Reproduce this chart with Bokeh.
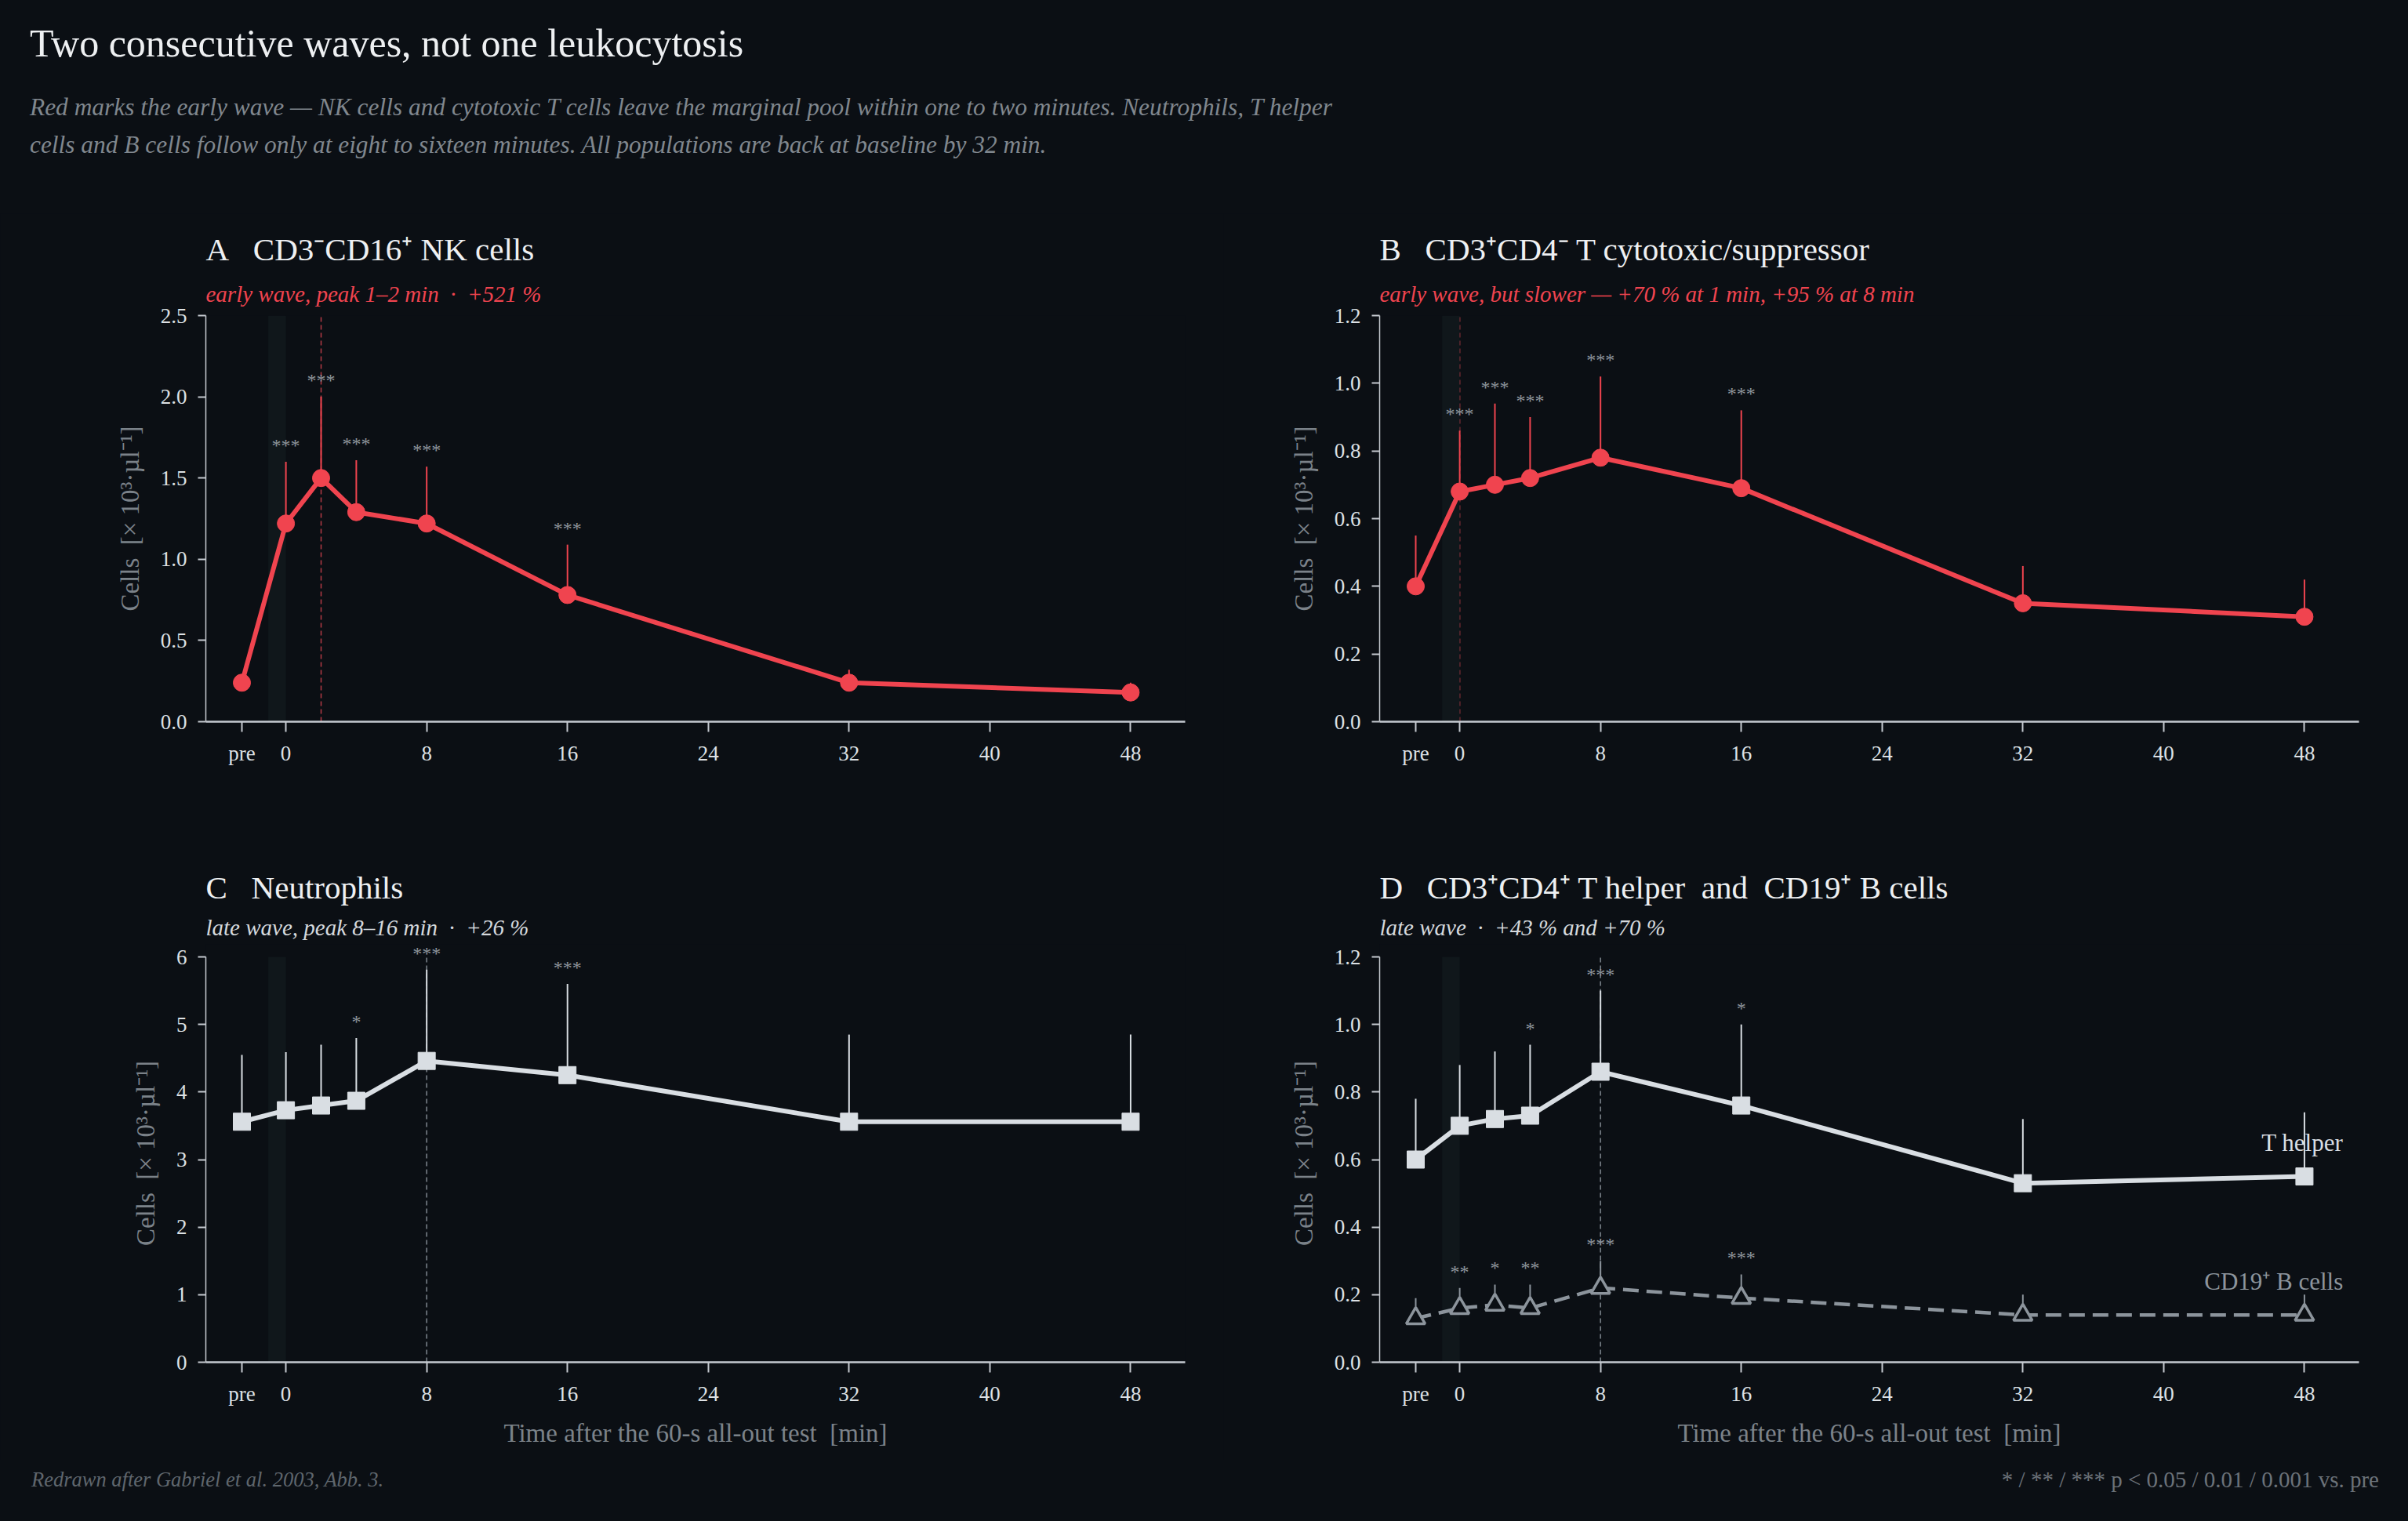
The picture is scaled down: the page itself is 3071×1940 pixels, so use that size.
from bokeh.plotting import figure
from bokeh.models import Range1d, FixedTicker, Title, BoxAnnotation, Div
from bokeh.layouts import column, row
from bokeh.core.properties import value
from bokeh.embed import file_html
from bokeh.resources import INLINE

# ---------------- data ----------------
times = [-2.5, 0, 2, 4, 8, 16, 32, 48]          # first entry = "pre"
x_ticks = [-2.5, 0, 8, 16, 24, 32, 40, 48]
x_tick_labels = ["pre", "0", "8", "16", "24", "32", "40", "48"]

nk_mean = [0.24, 1.22, 1.50, 1.29, 1.22, 0.78, 0.24, 0.18]
nk_sd = [0.04, 0.38, 0.50, 0.32, 0.35, 0.31, 0.08, 0.06]
nk_stars = ["", "***", "***", "***", "***", "***", "", ""]

cd8_mean = [0.40, 0.68, 0.70, 0.72, 0.78, 0.69, 0.35, 0.31]
cd8_sd = [0.15, 0.18, 0.24, 0.18, 0.24, 0.23, 0.11, 0.11]
cd8_stars = ["", "***", "***", "***", "***", "***", "", ""]

neu_mean = [3.56, 3.73, 3.80, 3.87, 4.46, 4.25, 3.56, 3.56]
neu_sd = [0.99, 0.86, 0.90, 0.93, 1.35, 1.35, 1.29, 1.29]
neu_stars = ["", "", "", "*", "***", "***", "", ""]

th_mean = [0.60, 0.70, 0.72, 0.73, 0.86, 0.76, 0.53, 0.55]
th_sd = [0.18, 0.18, 0.20, 0.21, 0.24, 0.24, 0.19, 0.19]
th_stars = ["", "", "", "*", "***", "*", "", ""]

b_mean = [0.13, 0.16, 0.17, 0.16, 0.22, 0.19, 0.14, 0.14]
b_sd = [0.06, 0.06, 0.06, 0.07, 0.08, 0.07, 0.06, 0.06]
b_stars = ["", "**", "*", "**", "***", "***", "", ""]

yticks_A = [0, 0.5, 1.0, 1.5, 2.0, 2.5]
yticks_B = [0, 0.2, 0.4, 0.6, 0.8, 1.0, 1.2]
yticks_C = [0, 1, 2, 3, 4, 5, 6]
yticks_D = [0, 0.2, 0.4, 0.6, 0.8, 1.0, 1.2]

# ---------------- style ----------------
FONT = "Liberation Serif"
BG = "#0b0f14"
BAND = "#10171b"
RED = "#f0444f"
LIGHT = "#d9dee3"
GREY_B = "#8c949c"
STAR = "#8e959c"
TICKLAB = "#dde1e5"
AXIS = "#c5cad0"
YLAB = "#7b8289"
WHITE = "#eef0f2"

YLABEL = "Cells\u00a0\u00a0[\u00d7 10\u00b3\u00b7\u00b5l\u207b\u00b9]"
XLABEL = "Time after the 60-s all-out test\u00a0\u00a0[min]"


def make_panel(width, height, left, right, top, bottom, ymax, yticks, yfmt,
               title, subtitle, sub_color, xlabel, pad=0):
    # pad: extra pixels of plotting room above ymax (axis still stops at ymax)
    frame_h = height - top - bottom
    yend = ymax + ymax * pad / frame_h
    p = figure(width=width, height=height, output_backend="svg", toolbar_location=None,
               title=None, x_range=Range1d(-4.55, 51.1), y_range=Range1d(0, yend),
               min_border_left=left, min_border_right=right,
               min_border_top=top - pad, min_border_bottom=bottom)
    p.background_fill_color = BG
    p.border_fill_color = BG
    p.outline_line_color = None
    p.grid.visible = False

    sub_standoff = 24 - pad + (4 if pad else 0)
    p.add_layout(Title(text=subtitle, text_font=FONT, text_font_size="29px",
                       text_font_style="italic", text_color=sub_color,
                       standoff=sub_standoff), "above")
    p.add_layout(Title(text=title, text_font=FONT, text_font_size="41px",
                       text_font_style="normal", text_color=WHITE, standoff=8), "above")

    xa = p.xaxis[0]
    xa.ticker = FixedTicker(ticks=x_ticks, minor_ticks=[])
    xa.major_label_overrides = {t: s for t, s in zip(x_ticks, x_tick_labels)}
    xa.axis_line_color = AXIS
    xa.axis_line_width = 2.5
    xa.major_tick_line_color = AXIS
    xa.major_tick_line_width = 2
    xa.major_tick_out = 13
    xa.major_tick_in = 0
    xa.minor_tick_line_color = None
    xa.major_label_text_font = FONT
    xa.major_label_text_font_size = "27px"
    xa.major_label_text_color = TICKLAB
    xa.major_label_standoff = 12
    if xlabel:
        xa.axis_label = xlabel
        xa.axis_label_text_font = FONT
        xa.axis_label_text_font_size = "33px"
        xa.axis_label_text_font_style = "normal"
        xa.axis_label_text_color = YLAB
        xa.axis_label_standoff = 14

    ya = p.yaxis[0]
    ya.bounds = (0, ymax)
    ya.ticker = FixedTicker(ticks=yticks, minor_ticks=[])
    ya.major_label_overrides = {t: yfmt.format(t) for t in yticks}
    ya.axis_line_color = AXIS
    ya.axis_line_width = 1.5
    ya.major_tick_line_color = AXIS
    ya.major_tick_line_width = 2
    ya.major_tick_out = 10
    ya.major_tick_in = 0
    ya.minor_tick_line_color = None
    ya.major_label_text_font = FONT
    ya.major_label_text_font_size = "27px"
    ya.major_label_text_color = TICKLAB
    ya.major_label_standoff = 14
    ya.axis_label = YLABEL
    ya.axis_label_text_font = FONT
    ya.axis_label_text_font_size = "33px"
    ya.axis_label_text_font_style = "normal"
    ya.axis_label_text_color = YLAB
    ya.axis_label_standoff = 18

    # 60-s all-out test band (-1 .. 0 min)
    p.add_layout(BoxAnnotation(left=-1, right=0, bottom=0, top=ymax, fill_color=BAND,
                               fill_alpha=1.0, line_color=None, level="underlay"))
    return p


def series(p, mean, sd, stars, color, marker, dashed=False):
    tops = [m + s for m, s in zip(mean, sd)]
    p.segment(x0=times, y0=mean, x1=times, y1=tops, line_color=color, line_width=2)
    if dashed:
        p.line(times, mean, line_color=color, line_width=4.5, line_dash="20 10")
    else:
        p.line(times, mean, line_color=color, line_width=6)
    if marker == "circle":
        p.scatter(times, mean, marker="circle", size=22, fill_color=color, line_color=color)
    elif marker == "square":
        p.scatter(times, mean, marker="square", size=22, fill_color=color, line_color=color)
    else:
        p.scatter(times, mean, marker="triangle", size=24, fill_color=BG,
                  line_color=color, line_width=3.5)
    p.text(x=times, y=tops, text=stars, text_align="center", text_baseline="alphabetic",
           y_offset=-21, text_font=value(FONT), text_font_size=value("24px"), text_color=STAR)


def vline(p, x, ymax, color, alpha):
    p.segment(x0=[x], y0=[0], x1=[x], y1=[ymax], line_color=color, line_alpha=alpha,
              line_width=1.5, line_dash="6 4", level="underlay")


WA, WB = 1560, 1495
H1, H2 = 730, 860

pA = make_panel(WA, H1, 262, 49, 130, 82, 2.5, yticks_A, "{:.1f}",
                "A\u00a0\u00a0 CD3\u207bCD16\u207a NK cells",
                "early wave, peak 1\u20132 min \u00a0\u00b7\u00a0 +521 %", RED, None)
vline(pA, 2, 2.5, "#c8404b", 0.9)
series(pA, nk_mean, nk_sd, nk_stars, RED, "circle")

pB = make_panel(WB, H1, 199, 47, 130, 82, 1.2, yticks_B, "{:.1f}",
                "B\u00a0\u00a0 CD3\u207aCD4\u207b T cytotoxic/suppressor",
                "early wave, but slower \u2014 +70 % at 1 min, +95 % at 8 min", RED, None)
vline(pB, 0, 1.2, "#c8404b", 0.9)
series(pB, cd8_mean, cd8_sd, cd8_stars, RED, "circle")

pC = make_panel(WA, H2, 262, 49, 218, 125, 6, yticks_C, "{:.0f}",
                "C\u00a0\u00a0 Neutrophils",
                "late wave, peak 8\u201316 min \u00a0\u00b7\u00a0 +26 %", "#d5d9dd", XLABEL, pad=16)
vline(pC, 8, 6, GREY_B, 0.9)
series(pC, neu_mean, neu_sd, neu_stars, LIGHT, "square")

pD = make_panel(WB, H2, 199, 47, 218, 125, 1.2, yticks_D, "{:.1f}",
                "D\u00a0\u00a0 CD3\u207aCD4\u207a T helper \u00a0and\u00a0 CD19\u207a B cells",
                "late wave \u00a0\u00b7\u00a0 +43 % and +70 %", "#d5d9dd", XLABEL, pad=16)
vline(pD, 8, 1.2, GREY_B, 0.9)
series(pD, b_mean, b_sd, b_stars, GREY_B, "triangle", dashed=True)
series(pD, th_mean, th_sd, th_stars, LIGHT, "square")
pD.text(x=[times[-1] + 2.2], y=[th_mean[-1] + 0.10], text=["T helper"], text_align="right",
        text_baseline="alphabetic", text_font=value(FONT), text_font_size=value("31px"),
        text_color=LIGHT)
pD.text(x=[times[-1] + 2.2], y=[b_mean[-1] + 0.10], text=["CD19\u207a B cells"], text_align="right",
        text_baseline="alphabetic", text_font=value(FONT), text_font_size=value("31px"),
        text_color=GREY_B)

header = Div(width=WA + WB, height=262, text=(
    f"<div style=\"font-family:'{FONT}';padding-left:33px;\">"
    f"<div style='font-size:50px;line-height:50px;margin-top:25px;color:{WHITE};'>"
    "Two consecutive waves, not one leukocytosis</div>"
    f"<div style='font-size:31.4px;line-height:48px;margin-top:33px;font-style:italic;color:#80878e;'>"
    "Red marks the early wave \u2014 NK cells and cytotoxic T cells leave the marginal pool within one "
    "to two minutes. Neutrophils, T helper<br>cells and B cells follow only at eight to sixteen minutes. "
    "All populations are back at baseline by 32 min.</div></div>"))

footer = Div(width=WA + WB, height=60, text=(
    f"<div style=\"font-family:'{FONT}';display:flex;justify-content:space-between;"
    "box-sizing:border-box;padding:0 26px 0 35px;line-height:40px;width:3055px;\">"
    "<span style='font-size:26.5px;font-style:italic;color:#5f666d;'>"
    "Redrawn after Gabriel et al. 2003, Abb. 3.</span>"
    "<span style='font-size:29px;color:#6b7279;'>"
    "* / ** / *** p &lt; 0.05 / 0.01 / 0.001 vs. pre</span></div>"))

layout = column(header, row(pA, pB), row(pC, pD), footer,
                styles={"background-color": BG})

html = file_html(layout, INLINE, title="Two consecutive waves")
html = html.replace("<head>", f"<head><style>html,body{{background:{BG};}}</style>", 1)
open("out.html", "w").write(html)
